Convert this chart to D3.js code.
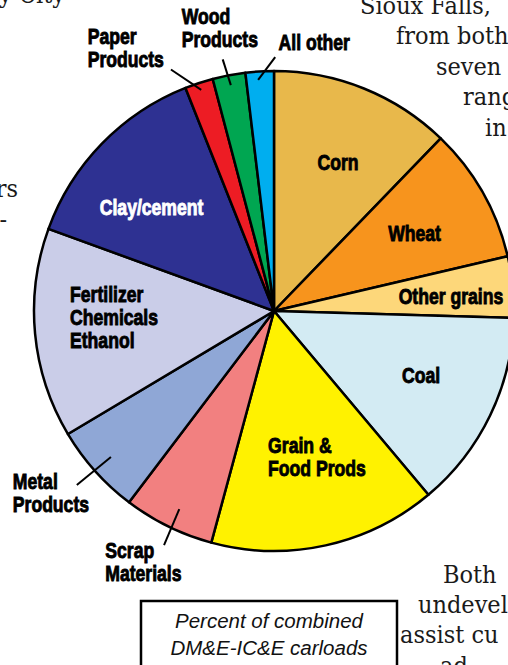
<!DOCTYPE html>
<html>
<head>
<meta charset="utf-8">
<script src="https://cdn.jsdelivr.net/npm/d3@7"></script>
<style>
  body { margin: 0; background: #fff; }
  svg { display: block; }
</style>
</head>
<body>
<script>
// commodity mix, percent of combined carloads
const categories = ["Corn", "Wheat", "Other grains", "Coal", "Grain &\nFood Prods",
    "Scrap\nMaterials", "Metal\nProducts", "Fertilizer\nChemicals\nEthanol",
    "Clay/cement", "Paper\nProducts", "Wood\nProducts", "All other"];
const shares = [12.2, 9.1, 4.1, 13.4, 15.3, 6.1, 6.1, 14.1, 13.4, 1.9, 2.2, 1.9];

// surrounding article text that shows around the clipped chart
const bodyLines = [
    {t: "y City", x: 65, y: 3, anchor: "end"},
    {t: "rs", x: 18, y: 197, anchor: "end"},
    {t: "-", x: 7, y: 228, anchor: "end"},
    {t: "Sioux  Falls,", x: 360, y: 14},
    {t: "from both", x: 396, y: 44},
    {t: "seven", x: 436, y: 75},
    {t: "rang", x: 463, y: 105},
    {t: "in", x: 485, y: 136},
    {t: "Both", x: 443, y: 583},
    {t: "undevel", x: 418, y: 613},
    {t: "assist cu", x: 400, y: 643},
    {t: "ad", x: 440, y: 674}
];
const boxLines = ["Percent of combined", "DM&E-IC&E carloads"];

const colors = ["#e8b84b", "#f7941d", "#fdd77a", "#d3ebf3", "#fff200", "#f28080",
    "#8fa7d6", "#cacde8", "#2e3192", "#ed1c24", "#00a651", "#00aeef"];

const width = 508, height = 665;
const cx = 274, cy = 311, radius = 240;
const squeeze = 0.8; // no condensed face installed, so labels get squeezed

// label placement: k = fraction of radius, da = degrees off slice middle
const labelPos = [
    {k: 0.675, da: 1.3}, {k: 0.67, da: 0.7}, {k: 0.74, da: 1}, {k: 0.67, da: -2},
    {k: 0.633, da: -4}, {k: 1.18, da: 1.3}, {k: 1.2, da: 2.6}, {k: 0.667, da: 3},
    {k: 0.667, da: -3.9}, {k: 1.257, da: -11.2}, {k: 1.2, da: 0}, {k: 1.13, da: 12}
];
// leader lines for the labels that sit outside
const leaders = {
    5: [-0.6, 0.915, -1, 1.078],
    6: [0, 0.912, 0.4, 1.096],
    9: [0, 0.97, -4.9, 1.094],
    10: [0, 0.958, -0.7, 1.07],
    11: [-0.5, 0.965, 3.7, 1.058]
};

const svg = d3.select("body").append("svg")
    .attr("width", width)
    .attr("height", height);

svg.append("rect").attr("width", width).attr("height", height).attr("fill", "#fff");

// article text
svg.append("g")
    .selectAll("text")
    .data(bodyLines)
    .join("text")
    .attr("transform", d => `translate(${d.x},${d.y}) scale(0.9,1)`)
    .attr("text-anchor", d => d.anchor || "start")
    .style("font-family", "'DejaVu Serif', serif")
    .style("font-size", "25px")
    .style("fill", "#1a1a1a")
    .text(d => d.t);

const pie = d3.pie().sort(null).value(d => d)(shares);
const arc = d3.arc().innerRadius(0).outerRadius(radius);

const toRad = Math.PI / 180;
function polar(deg, r) {
    return [cx + r * Math.sin(deg * toRad), cy - r * Math.cos(deg * toRad)];
}

const g = svg.append("g").attr("transform", `translate(${cx},${cy})`);

g.selectAll("path")
    .data(pie)
    .join("path")
    .attr("d", arc)
    .attr("fill", (d, i) => colors[i])
    .attr("stroke", "#000")
    .attr("stroke-width", 2.5)
    .attr("stroke-linejoin", "round");

// leader lines
pie.forEach((d, i) => {
    if (!leaders[i]) return;
    const mid = (d.startAngle + d.endAngle) / 2 / toRad;
    const l = leaders[i];
    const p0 = polar(mid + l[0], radius * l[1]);
    const p1 = polar(mid + l[2], radius * l[3]);
    svg.append("line")
        .attr("x1", p0[0]).attr("y1", p0[1])
        .attr("x2", p1[0]).attr("y2", p1[1])
        .attr("stroke", "#000")
        .attr("stroke-width", 2);
});

// slice labels, each block centred on its target point
pie.forEach((d, i) => {
    const mid = (d.startAngle + d.endAngle) / 2 / toRad;
    const pos = polar(mid + labelPos[i].da, radius * labelPos[i].k);
    const col = i === 8 ? "#fff" : "#000";
    const t = svg.append("text")
        .style("font-family", "'Liberation Sans', Arial, sans-serif")
        .style("font-weight", "bold")
        .style("font-size", "22px")
        .style("fill", col)
        .style("stroke", col)
        .style("stroke-width", "0.9px");
    categories[i].split("\n").forEach((line, j) => {
        t.append("tspan").attr("x", 0).attr("y", j * 23).text(line);
    });
    const b = t.node().getBBox();
    const tx = pos[0] - (b.x + b.width / 2) * squeeze;
    const ty = pos[1] - (b.y + b.height / 2);
    t.attr("transform", `translate(${tx},${ty}) scale(${squeeze},1)`);
});

// caption box
svg.append("rect")
    .attr("x", 141).attr("y", 601)
    .attr("width", 256).attr("height", 110)
    .attr("fill", "#fff")
    .attr("stroke", "#000")
    .attr("stroke-width", 2.5);

svg.append("g")
    .selectAll("text")
    .data(boxLines)
    .join("text")
    .attr("x", 269)
    .attr("y", (d, i) => 628 + i * 27)
    .attr("text-anchor", "middle")
    .style("font-family", "'Liberation Sans', Arial, sans-serif")
    .style("font-style", "italic")
    .style("font-size", "20.5px")
    .style("fill", "#111")
    .text(d => d);
</script>
</body>
</html>
